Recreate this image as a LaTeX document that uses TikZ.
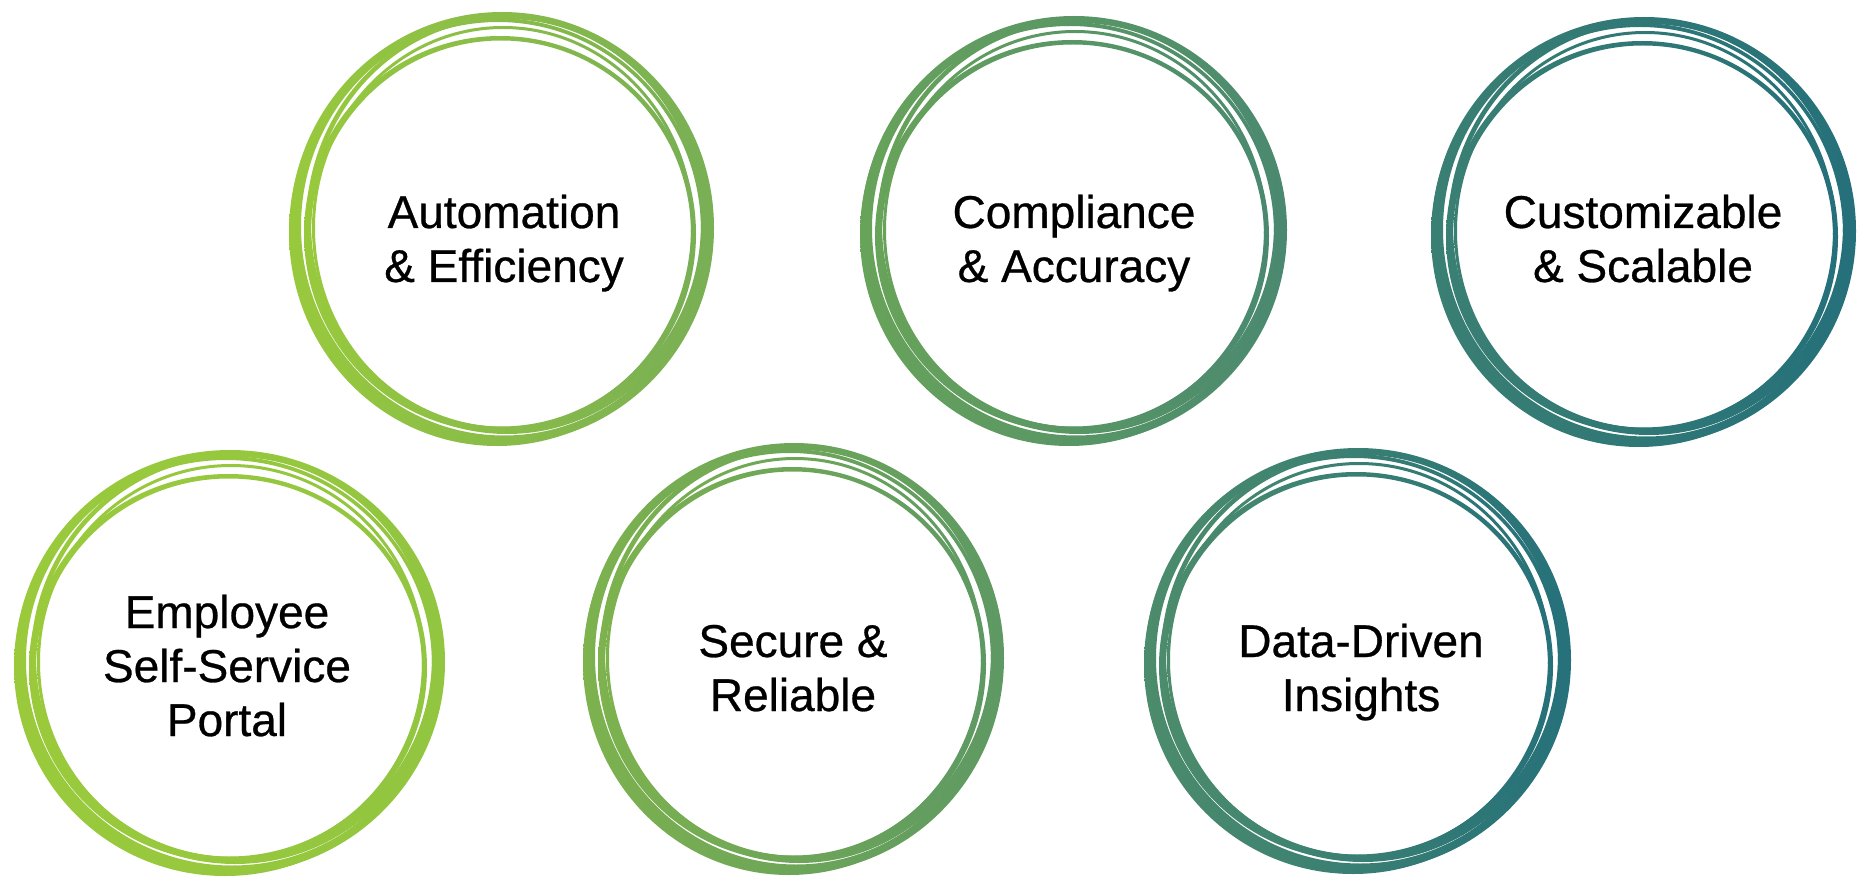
\documentclass[tikz,border=0pt]{standalone}
\usepackage{fontspec}
\setmainfont{Liberation Sans}
\newfontfamily\labelfont[FakeBold=0.6]{Liberation Sans}
\definecolor{aL}{RGB}{152,201,61}\definecolor{aR}{RGB}{121,175,85}
\definecolor{bL}{RGB}{104,163,90}\definecolor{bR}{RGB}{74,137,112}
\definecolor{cL}{RGB}{58,127,115}\definecolor{cR}{RGB}{37,112,122}
\definecolor{dL}{RGB}{154,202,60}\definecolor{dR}{RGB}{146,197,64}
\definecolor{eL}{RGB}{125,178,78}\definecolor{eR}{RGB}{94,153,99}
\definecolor{fL}{RGB}{76,140,108}\definecolor{fR}{RGB}{38,113,122}
% #1 cx  #2 cy  #3 rx  #4 ry  #5 left colour  #6 right colour
\newcommand\sketchring[6]{%
  \shade[left color=#5,right color=#6,even odd rule]
    (#1,#2) ellipse[x radius=#3pt, y radius=#4pt-2pt]
    (#1+2,#2-1.5) ellipse[x radius=#3pt-9pt, y radius=#4pt-9pt];
  \shade[left color=#5,right color=#6,even odd rule]
    (#1-5,#2+4) ellipse[x radius=#3pt-4pt, y radius=#4pt-4pt]
    (#1-4,#2+3) ellipse[x radius=#3pt-9pt, y radius=#4pt-9pt];
  \shade[left color=#5,right color=#6,even odd rule]
    (#1+5,#2-4) ellipse[x radius=#3pt-11pt, y radius=#4pt-8pt]
    (#1+4,#2-5) ellipse[x radius=#3pt-17pt, y radius=#4pt-14pt];
  \shade[left color=#5,right color=#6,even odd rule]
    (#1-2,#2+6) ellipse[x radius=#3pt-16pt, y radius=#4pt-20pt]
    (#1-1,#2+5.5) ellipse[x radius=#3pt-22pt, y radius=#4pt-25pt];
  \shade[left color=#5,right color=#6,even odd rule]
    (#1+1,#2) ellipse[x radius=#3pt-21pt, y radius=#4pt-16pt]
    (#1+1,#2) ellipse[x radius=#3pt-24pt, y radius=#4pt-19pt];
}
\tikzset{
  label/.style={inner sep=0pt, anchor=base, text=black,
    font=\labelfont\fontsize{46}{54}\selectfont},
}
\newcommand\lines[1]{\begin{tabular}[t]{@{}c@{}}#1\end{tabular}}
\begin{document}
\begin{tikzpicture}[x=1pt,y=-1pt]
  \fill[white] (0,0) rectangle (1874,885);
  \useasboundingbox (0,0) rectangle (1874,885);
  % top row
  \coordinate (c1) at (502,228);
  \coordinate (c2) at (1074,230);
  \coordinate (c3) at (1644,231);
  % bottom row
  \coordinate (c4) at (230,662);
  \coordinate (c5) at (794,658);
  \coordinate (c6) at (1358,660);
  \sketchring{502}{228}{212}{218}{aL}{aR}
  \sketchring{1074}{230}{213}{216}{bL}{bR}
  \sketchring{1644}{231}{212}{216}{cL}{cR}
  \sketchring{230}{662}{215}{214}{dL}{dR}
  \sketchring{794}{658}{210}{217}{eL}{eR}
  \sketchring{1358}{660}{213}{214}{fL}{fR}
  \node[label] (t1) at (504,228) {\lines{Automation\\\& Efficiency}};
  \node[label] (t2) at (1074,228) {\lines{Compliance\\\& Accuracy}};
  \node[label] (t3) at (1643,228) {\lines{Customizable\\\& Scalable}};
  \node[label] (t4) at (227,628) {\lines{Employee\\Self-Service\\Portal}};
  \node[label] (t5) at (793,657) {\lines{Secure \&\\Reliable}};
  \node[label] (t6) at (1361,657) {\lines{Data-Driven\\Insights}};
\end{tikzpicture}
\end{document}
